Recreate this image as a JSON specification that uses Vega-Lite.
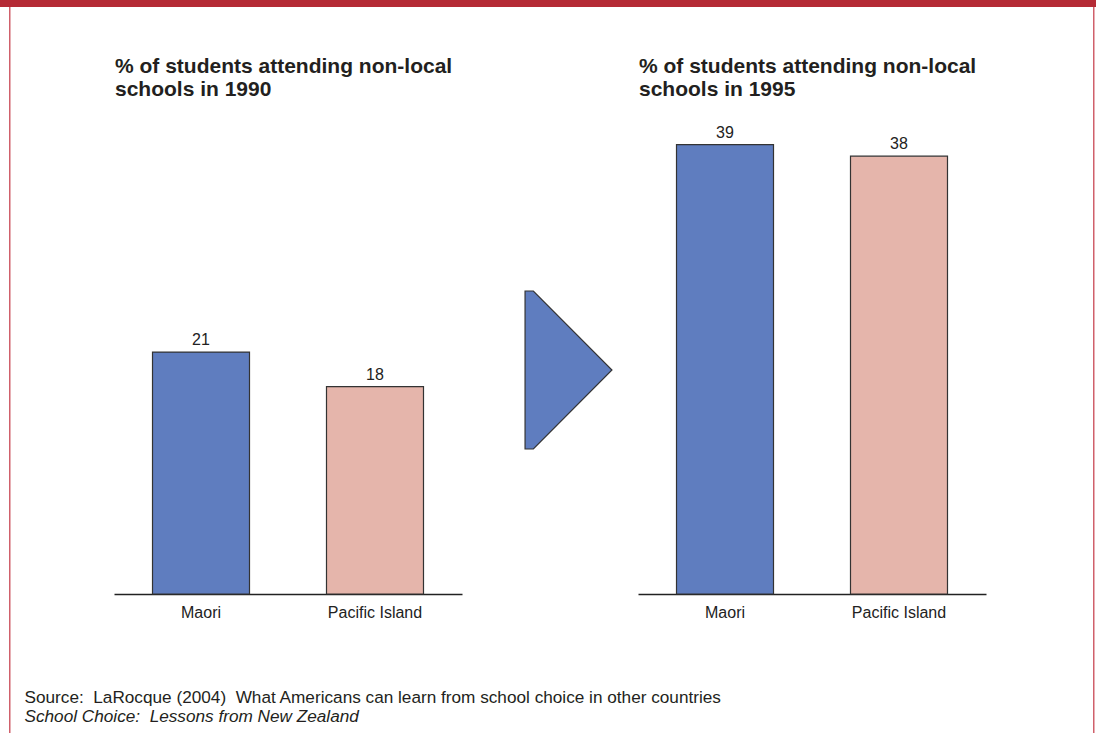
{
  "$schema": "https://vega.github.io/schema/vega-lite/v6.json",
  "padding": 0,
  "background": "white",
  "config": {
    "view": {"stroke": null},
    "concat": {"spacing": 0},
    "font": "Liberation Sans"
  },
  "datasets": {
    "share": [
      {"year": 1990, "group": "Maori", "pct": 21},
      {"year": 1990, "group": "Pacific Island", "pct": 18},
      {"year": 1995, "group": "Maori", "pct": 39},
      {"year": 1995, "group": "Pacific Island", "pct": 38}
    ],
    "arrow": [{"from": "1990", "to": "1995"}],
    "none": []
  },
  "spacing": 0,
  "bounds": "flush",
  "vconcat": [
    {
      "width": 1096,
      "height": 7,
      "view": {"fill": "#b52a35", "stroke": null},
      "data": {"name": "none"},
      "mark": "rect",
      "encoding": {}
    },
    {
      "spacing": 0,
      "bounds": "flush",
      "hconcat": [
        {"width": 9, "height": 726, "data": {"name": "none"}, "mark": "rect", "encoding": {}},
        {"width": 1.5, "height": 726, "view": {"fill": "#d0606b", "stroke": null}, "data": {"name": "none"}, "mark": "rect", "encoding": {}},
        {
          "width": 102.5, "height": 726,
          "data": {"name": "none"}, "mark": "rect", "encoding": {},
          "title": {
            "text": "Source:\u00a0 LaRocque (2004)\u00a0 What Americans can learn from school choice in other countries",
            "subtitle": "School Choice:\u00a0 Lessons from New Zealand",
            "orient": "bottom",
            "anchor": "start",
            "frame": "group",
            "offset": -44,
            "dx": 13.5,
            "limit": 2000,
            "font": "Liberation Sans",
            "fontSize": 17.2,
            "fontWeight": "normal",
            "color": "#231f20",
            "subtitleFont": "Liberation Sans",
            "subtitleFontSize": 17.2,
            "subtitleFontStyle": "italic",
            "subtitleColor": "#231f20",
            "subtitlePadding": 2
          }
        },
        {
          "width": 348, "height": 587,
          "data": {"name": "share"},
          "transform": [{"filter": "datum.year == 1990"}],
          "title": {
            "text": ["% of students attending non-local", "schools in 1990"],
            "anchor": "start", "frame": "group", "orient": "top",
            "baseline": "alphabetic",
            "offset": -110, "dx": 1,
            "font": "Liberation Sans", "fontSize": 21, "fontWeight": "bold",
            "lineHeight": 23, "color": "#231f20", "limit": 2000
          },
          "encoding": {
            "x": {
              "field": "group", "type": "nominal", "title": null,
              "scale": {"paddingInner": 0.4425, "paddingOuter": 0.2213, "align": 0.5},
              "axis": {"labelAngle": 0, "ticks": false, "tickSize": 0, "labelPadding": 10, "labelFontSize": 16, "labelColor": "#222222", "labelFont": "Liberation Sans", "domainColor": "#222222", "domainWidth": 1.3, "grid": false}
            },
            "y": {"field": "pct", "type": "quantitative", "scale": {"domain": [0, 50.95]}, "axis": null}
          },
          "layer": [
            {
              "mark": {"type": "bar", "stroke": "#333333", "strokeWidth": 1.2},
              "encoding": {
                "color": {"field": "group", "type": "nominal", "legend": null,
                  "scale": {"domain": ["Maori", "Pacific Island"], "range": ["#5f7dbf", "#e5b5ab"]}}
              }
            },
            {
              "mark": {"type": "text", "baseline": "alphabetic", "dy": -7, "fontSize": 16, "color": "#222222", "font": "Liberation Sans"},
              "encoding": {"text": {"field": "pct", "type": "quantitative"}}
            }
          ]
        },
        {"width": 63, "height": 726, "data": {"name": "none"}, "mark": "rect", "encoding": {}},
        {
          "width": 87, "height": 726,
          "data": {"name": "arrow"},
          "mark": {
            "type": "point",
            "shape": "M -0.55 -1 L -0.445 -1 L 0.55 0 L -0.445 1 L -0.55 1 Z",
            "size": 24964,
            "filled": true,
            "fill": "#5f7dbf",
            "stroke": "#333333",
            "strokeWidth": 1.2,
            "opacity": 1
          },
          "encoding": {}
        },
        {"width": 26, "height": 726, "data": {"name": "none"}, "mark": "rect", "encoding": {}},
        {
          "width": 348, "height": 587,
          "data": {"name": "share"},
          "transform": [{"filter": "datum.year == 1995"}],
          "title": {
            "text": ["% of students attending non-local", "schools in 1995"],
            "anchor": "start", "frame": "group", "orient": "top",
            "baseline": "alphabetic",
            "offset": -110, "dx": 1,
            "font": "Liberation Sans", "fontSize": 21, "fontWeight": "bold",
            "lineHeight": 23, "color": "#231f20", "limit": 2000
          },
          "encoding": {
            "x": {
              "field": "group", "type": "nominal", "title": null,
              "scale": {"paddingInner": 0.4425, "paddingOuter": 0.2213, "align": 0.5},
              "axis": {"labelAngle": 0, "ticks": false, "tickSize": 0, "labelPadding": 10, "labelFontSize": 16, "labelColor": "#222222", "labelFont": "Liberation Sans", "domainColor": "#222222", "domainWidth": 1.3, "grid": false}
            },
            "y": {"field": "pct", "type": "quantitative", "scale": {"domain": [0, 50.95]}, "axis": null}
          },
          "layer": [
            {
              "mark": {"type": "bar", "stroke": "#333333", "strokeWidth": 1.2},
              "encoding": {
                "color": {"field": "group", "type": "nominal", "legend": null,
                  "scale": {"domain": ["Maori", "Pacific Island"], "range": ["#5f7dbf", "#e5b5ab"]}}
              }
            },
            {
              "mark": {"type": "text", "baseline": "alphabetic", "dy": -7, "fontSize": 16, "color": "#222222", "font": "Liberation Sans"},
              "encoding": {"text": {"field": "pct", "type": "quantitative"}}
            }
          ]
        },
        {"width": 107, "height": 726, "data": {"name": "none"}, "mark": "rect", "encoding": {}},
        {"width": 1.5, "height": 726, "view": {"fill": "#d0606b", "stroke": null}, "data": {"name": "none"}, "mark": "rect", "encoding": {}},
        {"width": 2.5, "height": 726, "data": {"name": "none"}, "mark": "rect", "encoding": {}}
      ]
    }
  ]
}
